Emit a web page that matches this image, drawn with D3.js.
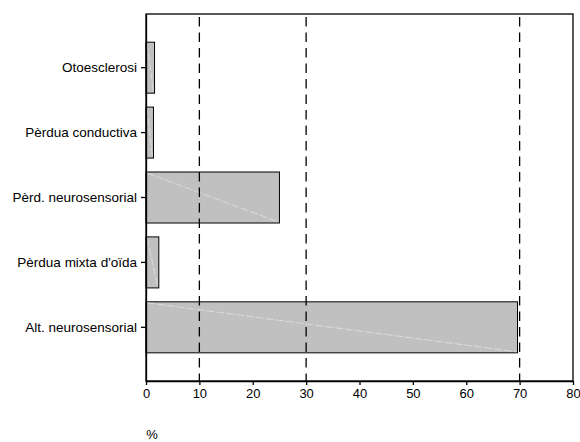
<!DOCTYPE html>
<html>
<head>
<meta charset="utf-8">
<script src="https://cdn.jsdelivr.net/npm/d3@7"></script>
<style>
  body { margin: 0; background: #fff; }
  svg { display: block; font-family: "Liberation Sans", Arial, sans-serif; }
</style>
</head>
<body>
<svg id="chart" width="580" height="442"></svg>
<script>
const categories = ["Otoesclerosi", "Pèrdua conductiva", "Pèrd. neurosensorial", "Pèrdua mixta d'oïda", "Alt. neurosensorial"];
const values = [1.6, 1.4, 25.0, 2.4, 69.6];
const refLines = [10, 30, 70];
const xTicks = [0, 10, 20, 30, 40, 50, 60, 70, 80];
const xLabel = "%";

const svg = d3.select("#chart");
const mLeft = 146, mRight = 573, mTop = 14, mBottom = 381;

const x = d3.scaleLinear().domain([0, 80]).range([mLeft, mRight]);
const y = d3.scaleBand().domain(categories).range([mTop, mBottom]).paddingInner(0.214).paddingOuter(0.434);

// bars
const bars = svg.append("g");
bars.selectAll("rect").data(categories).join("rect")
  .attr("x", x(0))
  .attr("y", d => y(d))
  .attr("width", (d, i) => x(values[i]) - x(0))
  .attr("height", y.bandwidth())
  .attr("fill", "#c0c0c0")
  .attr("stroke", "#000")
  .attr("stroke-width", 1);

// faint diagonal artifacts
bars.selectAll("line").data(categories).join("line")
  .attr("x1", x(0) + 1)
  .attr("y1", d => y(d) + 1)
  .attr("x2", (d, i) => x(values[i]) - 1)
  .attr("y2", d => y(d) + y.bandwidth() - 1)
  .attr("stroke", "#e2e2e2")
  .attr("stroke-width", 0.8)
  .attr("stroke-dasharray", "8,2");

// reference dashed lines
svg.append("g").selectAll("line").data(refLines).join("line")
  .attr("x1", d => x(d)).attr("x2", d => x(d))
  .attr("y1", mTop).attr("y2", mBottom)
  .attr("stroke", "#000")
  .attr("stroke-width", 1.3)
  .attr("stroke-dasharray", "9.5,6")
  .attr("stroke-dashoffset", -3);

// frame
svg.append("rect")
  .attr("x", mLeft).attr("y", mTop)
  .attr("width", mRight - mLeft).attr("height", mBottom - mTop)
  .attr("fill", "none").attr("stroke", "#000").attr("stroke-width", 1.3);

// x axis
const xAxis = svg.append("g").attr("transform", `translate(0,${mBottom})`)
  .call(d3.axisBottom(x).tickValues(xTicks).tickSize(4).tickPadding(4).tickSizeOuter(0));
xAxis.select(".domain").attr("stroke-width", 1.3);
xAxis.selectAll(".tick line").attr("stroke-width", 1.3);
xAxis.selectAll("text").attr("font-size", 13).attr("fill", "#000")
  .attr("font-family", "Liberation Sans, Arial, sans-serif");

// y axis
const yAxis = svg.append("g").attr("transform", `translate(${mLeft},0)`)
  .call(d3.axisLeft(y).tickSize(5).tickPadding(4).tickSizeOuter(0));
yAxis.select(".domain").attr("stroke-width", 1.3);
yAxis.selectAll(".tick line").attr("stroke-width", 1.3);
yAxis.selectAll("text").attr("font-size", 13.5).attr("fill", "#000")
  .attr("font-family", "Liberation Sans, Arial, sans-serif");

// x label
svg.append("text")
  .attr("x", 152).attr("y", 439)
  .attr("text-anchor", "middle")
  .attr("font-size", 13)
  .attr("fill", "#000")
  .text(xLabel);
</script>
</body>
</html>
